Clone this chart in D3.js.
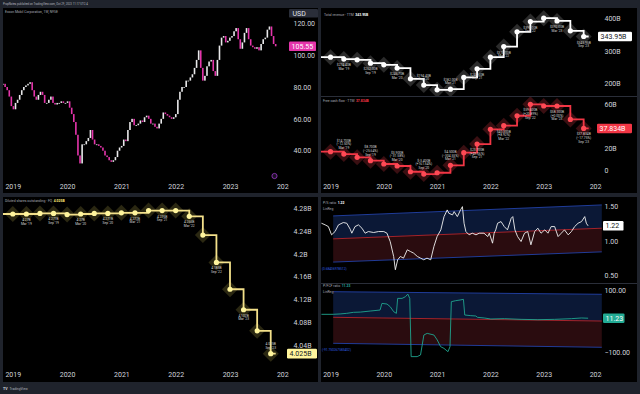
<!DOCTYPE html>
<html>
<head>
<meta charset="utf-8">
<script src="https://cdn.jsdelivr.net/npm/d3@7"></script>
<style>
  html, body { margin: 0; padding: 0; background: #1f232c; overflow: hidden; }
  svg { display: block; font-family: Roboto, "Noto Sans", sans-serif; }
</style>
</head>
<body>
<svg id="chart" width="640" height="394"></svg>
<script>
// ---- data ----
const yearTicks = [2019, 2020, 2021, 2022, 2023, 2024];

// XOM, closes every two weeks starting late Oct 2018
const priceStart = 2018.82;
const priceClose = [
  82, 80, 78, 74, 68, 66, 70, 72, 75, 78,
  80, 81, 82, 83, 78, 74, 72, 75, 77, 75,
  70, 70, 72, 74, 70, 69, 70, 70, 71, 70,
  70, 71, 67, 63, 58, 50, 37, 32, 44, 44,
  46, 48, 53, 47, 44, 44, 43, 42, 40, 37,
  36, 34, 33, 34, 36, 40, 42, 43, 47, 46,
  53, 58, 60, 56, 56, 57, 59, 58, 61, 62,
  60, 57, 57, 55, 54, 57, 60, 64, 63, 62,
  61, 60, 61, 63, 72, 77, 80, 80, 84, 84,
  86, 88, 92, 97, 103, 92, 84, 87, 93, 96,
  97, 90, 87, 97, 106, 111, 112, 108, 109, 111,
  112, 115, 117, 110, 104, 108, 114, 117, 110, 106,
  105, 104, 105, 103, 107, 110, 111, 116, 118, 112,
  107, 105.55
];
const priceTicks = [40, 60, 80, 100, 120];

const quarters = ["Dec '18", "Mar '19", "Jun '19", "Sep '19", "Dec '19", "Mar '20", "Jun '20", "Sep '20",
  "Dec '20", "Mar '21", "Jun '21", "Sep '21", "Dec '21", "Mar '22", "Jun '22", "Sep '22",
  "Dec '22", "Mar '23", "Jun '23", "Sep '23"];
const revenue = [280.5, 274.4, 272.3, 262.0, 257.0, 246.7, 213.8, 194.4, 180.0, 182.0,
  218.0, 244.6, 280.5, 313.0, 358.5, 390.0, 400.5, 392.0, 361.5, 343.95];
const fcf = [16.8, 14.7, 11.7, 8.7, 5.7, 3.9, -1.3, -3.4, -2.2, 4.5,
  15.9, 23.7, 37.0, 40.3, 49.3, 59.6, 58.1, 58.1, 46.0, 37.834];
const shares = [4.270, 4.270, 4.271, 4.271, 4.269, 4.270, 4.271, 4.271, 4.272, 4.272,
  4.276, 4.276, 4.276, 4.266, 4.233, 4.185, 4.138, 4.102, 4.065, 4.025];

const psDates = [2018.83, 2018.90, 2018.96, 2019.02, 2019.085, 2019.15, 2019.24, 2019.305, 2019.37, 2019.40,
  2019.46, 2019.525, 2019.59, 2019.65, 2019.71, 2019.81, 2019.90, 2020.0, 2020.06, 2020.12,
  2020.185, 2020.217, 2020.26, 2020.31, 2020.37, 2020.44, 2020.50, 2020.56, 2020.63, 2020.69,
  2020.75, 2020.81, 2020.88, 2020.94, 2021.0, 2021.07, 2021.13, 2021.19, 2021.22, 2021.29,
  2021.32, 2021.38, 2021.44, 2021.475, 2021.506, 2021.54, 2021.60, 2021.66, 2021.73, 2021.79,
  2021.88, 2021.95, 2021.98, 2022.04, 2022.07, 2022.10, 2022.135, 2022.20, 2022.26, 2022.32,
  2022.39, 2022.42, 2022.46, 2022.51, 2022.575, 2022.64, 2022.70, 2022.76, 2022.83, 2022.89,
  2022.95, 2023.02, 2023.08, 2023.14, 2023.205, 2023.27, 2023.33, 2023.39, 2023.46, 2023.52,
  2023.58, 2023.645, 2023.71, 2023.77, 2023.80, 2023.833];
const psValues = [1.258, 1.234, 1.209, 1.088, 1.136, 1.234, 1.268, 1.258, 1.170, 1.112,
  1.209, 1.234, 1.185, 1.112, 1.136, 1.122, 1.136, 1.136, 1.112, 0.990,
  0.771, 0.577, 0.723, 0.771, 0.747, 0.869, 0.844, 0.820, 0.771, 0.747,
  0.723, 0.747, 0.723, 0.917, 1.063, 1.161, 1.355, 1.453, 1.404, 1.380,
  1.428, 1.355, 1.453, 1.501, 1.258, 1.136, 1.088, 1.112, 1.088, 1.112,
  1.112, 1.063, 1.112, 0.966, 1.112, 1.161, 1.258, 1.282, 1.209, 1.161,
  1.331, 1.355, 1.161, 1.063, 0.990, 1.112, 1.136, 0.942, 1.136, 1.185,
  1.112, 1.161, 1.112, 1.209, 1.209, 1.063, 1.112, 1.161, 1.088, 1.136,
  1.209, 1.258, 1.282, 1.355, 1.258, 1.22];
const psTicks = [0.5, 1.0, 1.5];
const psChannelStart = [1.365, 1.029, 0.689];
const psChannelEnd = [1.526, 1.185, 0.839];

const pfcfDates = [2018.83, 2019.05, 2019.18, 2019.305, 2019.43, 2019.56, 2019.745, 2019.93, 2019.965, 2020.06,
  2020.12, 2020.185, 2020.236, 2020.26, 2020.343, 2020.406, 2020.45, 2020.487, 2020.513, 2020.626,
  2020.689, 2020.752, 2020.814, 2020.94, 2021.003, 2021.066, 2021.129, 2021.204, 2021.242, 2021.267,
  2021.349, 2021.431, 2021.494, 2021.519, 2021.632, 2021.726, 2021.758, 2021.884, 2022.009, 2022.261,
  2022.575, 2022.89, 2023.205, 2023.519, 2023.708, 2023.833];
const pfcfValues = [23.8, 23.8, 25, 27, 30.2, 31, 34.4, 37.6, 59, 57,
  48.4, 32.3, 27, 75.2, 75.2, 80.6, 89.1, 75.2, -112.7, -112.7,
  -107.4, -42.9, -37.6, -42.9, -59, -80.6, -86, -96.7, -80.6, 64.6,
  67.8, 70, 72.1, 21.6, 19.5, 18.4, 14.1, 12, 8.7, 9.8,
  7.6, 6.5, 7.6, 9.8, 12, 11.23];
const pfcfTicks = [-100, 100];
const pfcfChannelStart = [96.8, 14.2, -69.7];
const pfcfChannelEnd = [88.4, 2.2, -82.6];
const channelSpan = [2019.05, 2024.09];

// ---- layout ----
const svg = d3.select("#chart");
const defs = svg.append("defs");
const axisColor = "#d1d4dc", titleColor = "#a9acb5";

function clip(id, x, y, w, h) {
  defs.append("clipPath").attr("id", id).append("rect")
    .attr("x", x).attr("y", y).attr("width", w).attr("height", h);
  return `url(#${id})`;
}

// panes
[[3, 8, 315, 185], [3, 197, 315, 185], [321, 8, 316, 185], [321, 197, 316, 185]].forEach(p => {
  svg.append("rect").attr("x", p[0]).attr("y", p[1]).attr("width", p[2]).attr("height", p[3]).attr("fill", "#000");
});
[96.5, 283.5].forEach(yy => {
  svg.append("line").attr("x1", 321).attr("x2", 637).attr("y1", yy).attr("y2", yy)
    .attr("stroke", "#2a2e39").attr("stroke-width", 1);
});

svg.append("text").attr("x", 3).attr("y", 5.3).attr("font-size", 2.8).attr("fill", "#b2b5be")
  .text("PropNotes published on TradingView.com, Oct 29, 2023 11:17 UTC-4");
svg.append("text").attr("x", 3).attr("y", 389.5).attr("font-size", 3.6).attr("font-weight", "bold").attr("fill", "#d1d4dc").text("TV");
svg.append("text").attr("x", 9.5).attr("y", 389.5).attr("font-size", 3.3).attr("fill", "#b2b5be").text("TradingView");

const xL = d3.scaleLinear().domain([2019, 2024]).range([12.8, 284.3]);
const xR = d3.scaleLinear().domain([2019, 2024]).range([330.5, 597]);

const clipL = clip("clipL", 3, 8, 286, 185);
const clipLB = clip("clipLB", 3, 197, 286, 185);
const clipR = clip("clipR", 321, 8, 281, 185);
const clipRB = clip("clipRB", 321, 197, 281, 185);

function timeAxis(x, ty, clipUrl) {
  const g = svg.append("g").attr("clip-path", clipUrl).append("g")
    .attr("transform", `translate(0,${ty})`)
    .call(d3.axisBottom(x).tickValues(yearTicks).tickFormat(d3.format("d")).tickSize(0).tickPadding(0));
  g.select(".domain").remove();
  g.attr("font-size", 7).attr("font-family", "Roboto, sans-serif").attr("color", axisColor);
}
timeAxis(xL, 184.5, clipL);
timeAxis(xL, 372.5, clipLB);
timeAxis(xR, 184.5, clipR);
timeAxis(xR, 372.5, clipRB);

function priceAxis(y, tx, ticks, fmt) {
  const g = svg.append("g").attr("transform", `translate(${tx},0)`)
    .call(d3.axisRight(y).tickValues(ticks).tickFormat(fmt).tickSize(0).tickPadding(3.5));
  g.select(".domain").remove();
  g.attr("font-size", 7).attr("font-family", "Roboto, sans-serif").attr("color", axisColor);
}

function valueBox(x0, yc, w, txt, bg, fg) {
  svg.append("rect").attr("x", x0).attr("y", yc - 4.8).attr("width", w).attr("height", 9.6)
    .attr("rx", 1.2).attr("fill", bg);
  svg.append("text").attr("x", x0 + 2.6).attr("y", yc).attr("dy", "0.35em")
    .attr("font-size", 7).attr("fill", fg).text(txt);
}

function title(x, y, name, val, valColor) {
  const t = svg.append("text").attr("x", x).attr("y", y).attr("font-size", 3.4).attr("fill", titleColor);
  t.append("tspan").text(name);
  if (val) t.append("tspan").attr("dx", 1.5).attr("fill", valColor).attr("font-weight", "bold").text(val);
}

// ---- price pane (weekly candles) ----
const yP = d3.scaleLinear().domain([40, 120]).range([150.7, 23.3]);
priceAxis(yP, 290, priceTicks, d3.format(".2f"));
const candles = svg.append("g").attr("clip-path", clipL);
priceClose.forEach((c, i) => {
  const o = i > 0 ? priceClose[i - 1] : c;
  const t = priceStart + i * 14 / 365.25;
  const up = c >= o;
  candles.append("rect")
    .attr("x", xL(t) - 0.8).attr("width", 1.6)
    .attr("y", yP(Math.max(o, c)))
    .attr("height", Math.max(0.8, Math.abs(yP(o) - yP(c))))
    .attr("fill", up ? "#e8e8ea" : "#e535ab");
});
title(5, 13.2, "Exxon Mobil Corporation, 1W, NYSE");
svg.append("rect").attr("x", 289).attr("y", 9).attr("width", 29).attr("height", 8.6).attr("rx", 1.2).attr("fill", "#2a2e39");
svg.append("text").attr("x", 292.5).attr("y", 13.3).attr("dy", "0.35em").attr("font-size", 7).attr("fill", "#e0e3eb").text("USD");
valueBox(289, yP(priceClose[priceClose.length - 1]), 27, "105.55", "#e535ab", "#ffffff");
svg.append("circle").attr("cx", 274.5).attr("cy", 176).attr("r", 2.6)
  .attr("fill", "#1a0f22").attr("stroke", "#9c39c9").attr("stroke-width", 0.8);

// ---- quarterly step panes ----
const qDate = i => 2019 + i / 4;

function stepSeries(cfg) {
  const pts = cfg.values.map((v, i) => ({t: qDate(i), v: v, q: quarters[i], i: i}));
  const g = svg.append("g").attr("clip-path", cfg.clip);
  g.selectAll(".halo").data(pts).join("path")
    .attr("d", "M0,-8L8,0L0,8L-8,0Z")
    .attr("transform", d => `translate(${cfg.x(d.t)},${cfg.y(d.v)})`)
    .attr("fill", cfg.halo);
  const last = pts[pts.length - 1];
  const lineData = [[cfg.left, cfg.y(pts[0].v)]]
    .concat(pts.map(d => [cfg.x(d.t), cfg.y(d.v)]))
    .concat([[cfg.x(last.t) + 5, cfg.y(last.v)]]);
  g.append("path").datum(lineData)
    .attr("fill", "none").attr("stroke", cfg.color).attr("stroke-width", 1.8)
    .attr("d", d3.line().curve(d3.curveStepAfter));
  g.selectAll(".dot").data(pts).join("circle")
    .attr("cx", d => cfg.x(d.t)).attr("cy", d => cfg.y(d.v)).attr("r", 2.6)
    .attr("fill", cfg.dot);
  pts.filter(d => d.i % 2 === 1).forEach(d => {
    const ls = cfg.lines(d);
    const px = cfg.x(d.t), py = cfg.y(d.v);
    const up = cfg.above(d);
    ls.forEach((s, k) => {
      g.append("text")
        .attr("x", px)
        .attr("y", up ? py - 5 - (ls.length - 1 - k) * 3.6 : py + 7 + k * 3.6)
        .attr("text-anchor", "middle").attr("font-size", 3.3).attr("fill", "#d6d6d6")
        .text(s);
    });
  });
}

// revenue
const yRev = d3.scaleLinear().domain([200, 400]).range([83.3, 18.3]);
priceAxis(yRev, 601, [200, 300, 400], d => d + "B");
stepSeries({
  values: revenue, x: xR, y: yRev, clip: clip("clipRev", 321, 8, 281, 88),
  left: 321, color: "#ffffff", dot: "#ffffff", halo: "#2b2b2b",
  lines: d => ["$" + d.v.toFixed(2) + "B", d.q],
  above: d => d.v < 200
});
title(324, 15.5, "Total revenue · TTM", "343.95B", "#ffffff");
valueBox(598, yRev(revenue[revenue.length - 1]), 34, "343.95B", "#ffffff", "#131722");

// free cash flow
const yFcf = d3.scaleLinear().domain([0, 60]).range([170.3, 103.9]);
priceAxis(yFcf, 601, [0, 20, 60], d => d === 0 ? "0" : d + "B");
stepSeries({
  values: fcf, x: xR, y: yFcf, clip: clip("clipFcf", 321, 97, 281, 96),
  left: 321, color: "#f23645", dot: "#ff4a55", halo: "#3a0f12",
  lines: d => ["$" + d.v.toFixed(3) + "B",
    "(" + d3.format("+.2%")(d.v / fcf[d.i - 1] - 1) + ")", d.q],
  above: d => d.v < 20
});
title(323, 101.5, "Free cash flow · TTM", "37.834B", "#f23645");
valueBox(597, yFcf(fcf[fcf.length - 1]), 35, "37.834B", "#f23645", "#ffffff");

// diluted shares
const ySh = d3.scaleLinear().domain([4.04, 4.28]).range([345.1, 208.3]);
priceAxis(ySh, 290, [4.04, 4.08, 4.12, 4.16, 4.2, 4.24, 4.28], d => d3.format(".4~r")(d) + "B");
stepSeries({
  values: shares, x: xL, y: ySh, clip: clipLB,
  left: 3, color: "#f3e08a", dot: "#fff59d", halo: "#2b2812",
  lines: d => [d3.format(".4~r")(d.v) + "B", d.q],
  above: d => d.v < 4.05
});
title(5, 201.5, "Diluted shares outstanding · FQ", "4.025B", "#fff176");
valueBox(287, ySh(shares[shares.length - 1]), 30, "4.025B", "#fff59d", "#131722");

// ---- ratio panes with LinReg channel ----
function ratioPane(cfg) {
  const g = svg.append("g").attr("clip-path", cfg.clip);
  const ch = [
    {t: channelSpan[0], a: cfg.start[0], m: cfg.start[1], b: cfg.start[2]},
    {t: channelSpan[1], a: cfg.end[0], m: cfg.end[1], b: cfg.end[2]}
  ];
  g.append("path").datum(ch).attr("fill", "#0b1836")
    .attr("d", d3.area().x(d => xR(d.t)).y0(d => cfg.y(d.m)).y1(d => cfg.y(d.a)));
  g.append("path").datum(ch).attr("fill", "#2a0c0f")
    .attr("d", d3.area().x(d => xR(d.t)).y0(d => cfg.y(d.b)).y1(d => cfg.y(d.m)));
  [["a", "#2342a8"], ["m", "#b3262f"], ["b", "#2342a8"]].forEach(([k, c]) => {
    g.append("path").datum(ch).attr("fill", "none").attr("stroke", c).attr("stroke-width", 0.9)
      .attr("d", d3.line().x(d => xR(d.t)).y(d => cfg.y(d[k])));
  });
  const series = cfg.dates.map((t, i) => [t, cfg.values[i]]);
  g.append("path").datum(series).attr("fill", "none")
    .attr("stroke", cfg.color).attr("stroke-width", 0.9)
    .attr("d", d3.line().x(d => xR(d[0])).y(d => cfg.y(d[1])));
  svg.append("text").attr("x", 322).attr("y", cfg.noteY).attr("font-size", 3.2)
    .attr("fill", "#2f5fe0").text(cfg.note);
  svg.append("text").attr("x", 323).attr("y", cfg.titleY + 6).attr("font-size", 3.4)
    .attr("fill", titleColor).text("LinReg");
}

const yPs = d3.scaleLinear().domain([0.5, 1.5]).range([275, 206.7]);
priceAxis(yPs, 601, psTicks, d3.format(".2f"));
ratioPane({
  y: yPs, clip: clip("clipPs", 321, 197, 281, 86), dates: psDates, values: psValues,
  start: psChannelStart, end: psChannelEnd, color: "#f2f2f2",
  note: "(0.68406978512)", noteY: 269.5, titleY: 203.5
});
title(323, 203.5, "P/S ratio", "1.22", "#ffffff");
valueBox(603, yPs(psValues[psValues.length - 1]), 20.5, "1.22", "#ffffff", "#131722");

const yPf = d3.scaleLinear().domain([-100, 100]).range([352.7, 290.7]);
priceAxis(yPf, 601, pfcfTicks, d3.format(".2f"));
ratioPane({
  y: yPf, clip: clip("clipPf", 321, 284, 281, 86), dates: pfcfDates, values: pfcfValues,
  start: pfcfChannelStart, end: pfcfChannelEnd, color: "#1fa58f",
  note: "(-91.750267583402)", noteY: 351, titleY: 287
});
title(323, 287, "P/FCF ratio", "11.23", "#26a69a");
valueBox(603, yPf(pfcfValues[pfcfValues.length - 1]), 21.5, "11.23", "#22ab94", "#ffffff");
</script>
</body>
</html>
